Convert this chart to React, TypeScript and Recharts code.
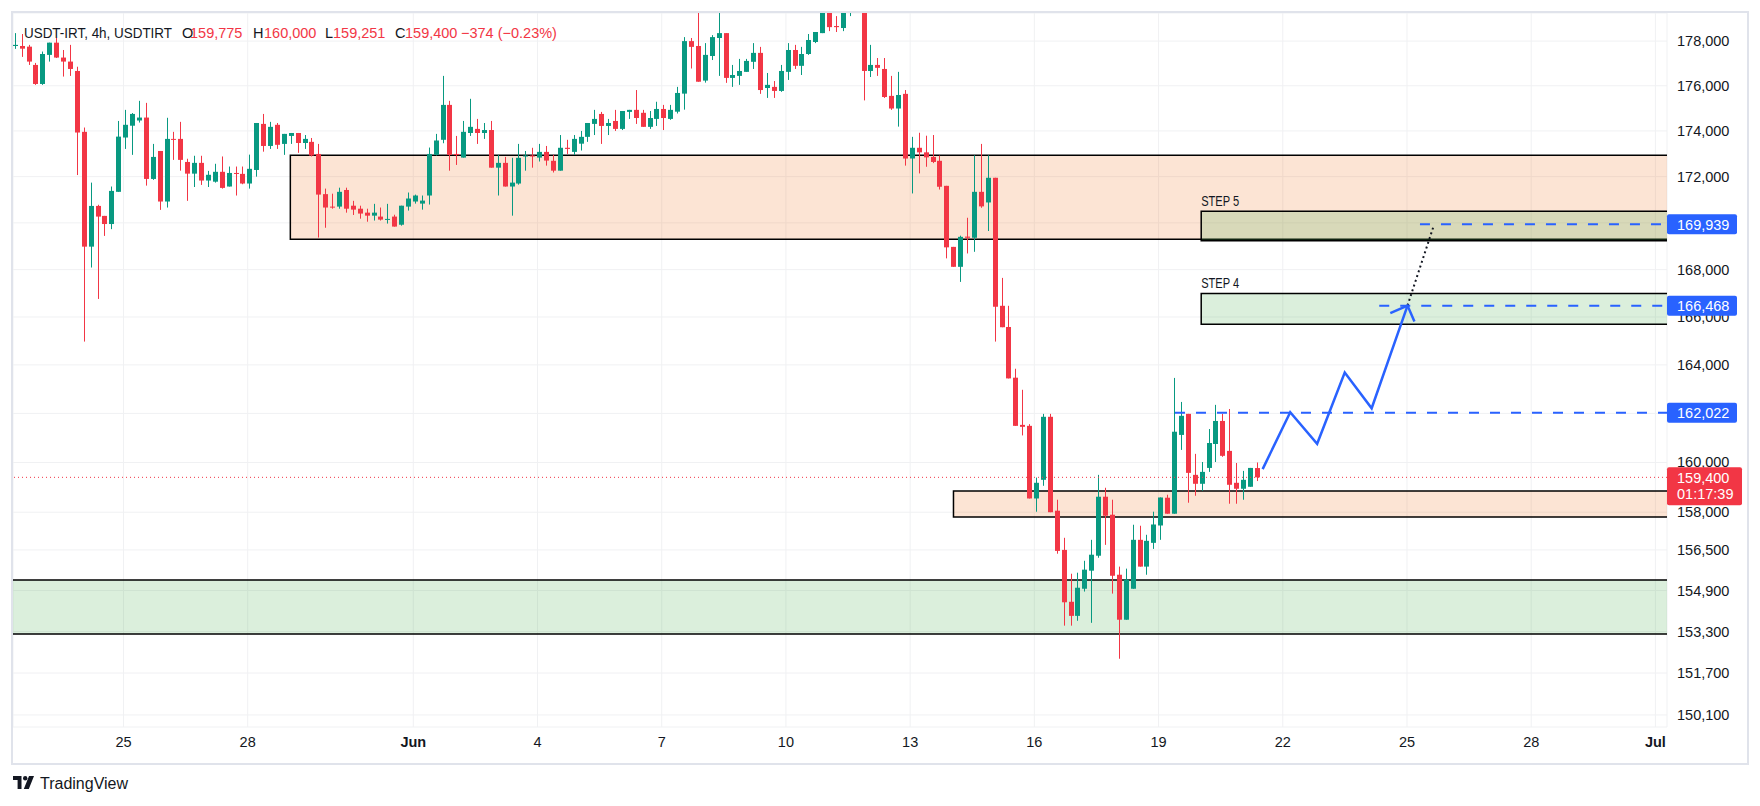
import React from 'react';
import {
  ComposedChart,
  Bar,
  Line,
  XAxis,
  YAxis,
  CartesianGrid,
  ReferenceArea,
  ReferenceLine,
} from 'recharts';

// USDT-IRT 4h candles (index 0 = first visible candle)
const OPEN = [
  177780, 177780, 177750, 176930, 176080, 177380, 177930, 177260, 177080, 176660,
  173960, 168980, 170730, 170300, 169950, 171340, 173710, 174230, 174460, 174590,
  171900, 173120, 170920, 173650, 173650, 172640, 172130, 172600, 171830, 171780,
  172210, 171570, 172160, 172120, 171700, 172290, 174310, 173340, 174270, 173430,
  173780, 173910, 173470, 173520, 172990, 171240, 170700, 170700, 171420, 170740,
  170610, 170440, 170310, 170270, 170140, 170270, 169920, 170700, 170920, 170830,
  171180, 172950, 173610, 175150, 172990, 172830, 173910, 174090, 173910, 174040,
  172390, 172600, 171570, 171700, 172880, 172920, 172830, 173080, 172690, 172260,
  173260, 173080, 173440, 173740, 174310, 174750, 174220, 174440, 174090, 174840,
  174930, 174800, 174180, 174530, 174970, 174530, 174850, 175650, 178000, 177780,
  176230, 177330, 178140, 178360, 176350, 176440, 176620, 177070, 177470, 175900,
  175950, 175770, 176620, 177600, 176890, 177420, 177960, 178360, 179550, 178680,
  178590, 179500, 179900, 179700, 176660, 176930, 176750, 175550, 174990, 175640,
  172790, 173260, 173060, 172860, 172690, 171600, 168970, 168120, 169410, 169360,
  171340, 170880, 171950, 166470, 165580, 163470, 161530, 161490, 158550, 159300,
  161860, 158060, 156500, 154460, 153910, 154970, 155680, 156270, 158620, 157900,
  155520, 153760, 154970, 156900, 155840, 156780, 157470, 158580, 157940, 161120,
  161980, 159500, 159140, 159780, 160750, 161690, 160470, 159180, 158940, 159020,
  159775,
];
const HIGH = [
  178360, 178320, 177830, 177020, 177530, 177930, 178140, 177600, 177830, 176850,
  174150, 171740, 170780, 170300, 171570, 174440, 174930, 174790, 175330, 175240,
  173430, 173120, 174580, 173960, 174400, 172780, 172910, 172910, 172250, 172560,
  172880, 172440, 172440, 172440, 172960, 174350, 174750, 174400, 174350, 173870,
  173910, 173910, 173820, 173690, 173430, 171480, 171260, 171520, 171520, 170950,
  170740, 170610, 170820, 170660, 170820, 170350, 170740, 171310, 171220, 171180,
  173270, 173870, 176440, 175330, 173780, 174440, 175420, 174530, 174350, 174440,
  172950, 172860, 172820, 173430, 173120, 173260, 173430, 173340, 172950, 173820,
  173610, 173820, 174000, 174350, 174930, 174840, 174530, 174930, 174880, 174930,
  175810, 174930, 174880, 175290, 175150, 175150, 175950, 178180, 178140, 179500,
  177910, 178270, 179500, 178360, 176930, 177200, 177200, 177910, 177740, 176570,
  176210, 176930, 177910, 177830, 177740, 178320, 178410, 179900, 179800, 179130,
  179900, 180100, 180300, 180000, 177830, 177240, 177240, 176440, 176620, 175810,
  173740, 173920, 173790, 173820, 172920, 171600, 168970, 169450, 170220, 172930,
  173430, 172930, 171950, 167650, 166470, 163840, 162970, 161560, 159390, 161980,
  161980, 158500, 156980, 155560, 155600, 156070, 156900, 159500, 158980, 158500,
  155840, 155760, 157500, 157460, 157100, 158020, 158590, 158700, 163460, 162470,
  161980, 160350, 160020, 161360, 162350, 161980, 162180, 159980, 159660, 159780,
  160000,
];
const LOW = [
  177650, 177290, 176930, 176040, 176040, 177080, 177240, 176410, 176440, 172070,
  164970, 168090, 166760, 169440, 169730, 171340, 173210, 172950, 174370, 171610,
  171860, 170560, 170660, 172730, 172260, 170950, 171550, 171640, 171550, 171740,
  171480, 171570, 171180, 171670, 171480, 172000, 173090, 173210, 173210, 172950,
  173430, 173040, 173210, 172880, 169370, 169790, 170610, 170610, 170440, 170340,
  170180, 170050, 170100, 170100, 169970, 169840, 169880, 170530, 170830, 170570,
  170790, 172920, 173460, 172260, 172510, 172830, 173780, 173430, 173650, 172390,
  171180, 171570, 170310, 171650, 172260, 172390, 172660, 172480, 172180, 172260,
  172990, 172950, 173140, 173520, 173820, 173430, 173820, 174000, 174040, 174530,
  174310, 174180, 174090, 174220, 174040, 174490, 174770, 174940, 176770, 176180,
  176140, 177150, 176440, 176130, 175950, 176040, 176620, 176750, 175640, 175460,
  175460, 175730, 176260, 176750, 176480, 177380, 177910, 178360, 178450, 178410,
  178450, 179130, 179500, 175350, 176390, 176440, 175460, 174930, 174190, 172480,
  171270, 172140, 172430, 172590, 171440, 168480, 168120, 167480, 168690, 168760,
  170650, 169650, 164970, 165570, 163440, 161490, 161100, 158550, 158020, 159060,
  158000, 156350, 153530, 153530, 153720, 154860, 153640, 156190, 156700, 154780,
  152250, 153760, 154970, 155840, 155520, 156540, 156900, 157940, 157940, 160510,
  158380, 158660, 158860, 159620, 160020, 160230, 158340, 158340, 158500, 159020,
  159251,
];
const CLOSE = [
  177830, 177660, 177080, 176080, 177420, 177930, 177260, 177080, 176750, 173930,
  168980, 170730, 170270, 169950, 171380, 173750, 174270, 174750, 174590, 171900,
  172860, 170920, 173650, 173620, 172730, 172130, 172600, 171830, 172080, 172210,
  171510, 172160, 172120, 171700, 172340, 174350, 173340, 174180, 173390, 173870,
  173910, 173470, 173650, 172920, 171220, 170660, 170660, 171340, 170610, 170570,
  170400, 170310, 170440, 170140, 170170, 169840, 170740, 171050, 171180, 170960,
  172990, 173580, 175150, 172950, 172940, 173960, 174180, 173910, 174040, 172390,
  172600, 171570, 171740, 172820, 172920, 172880, 173080, 172700, 172260, 173260,
  173210, 173650, 173740, 174350, 174530, 174220, 174350, 174090, 174880, 174930,
  174570, 174180, 174570, 174970, 174570, 174930, 175680, 178000, 177740, 176180,
  177380, 178180, 178360, 176350, 176480, 176660, 177110, 177470, 175810, 176040,
  175770, 176660, 177600, 176890, 177420, 178050, 178410, 179620, 178630, 178630,
  179600, 179900, 179800, 176660, 176930, 176800, 175500, 174990, 175590, 172790,
  173260, 173060, 172840, 172640, 171560, 168950, 168120, 169400, 169360, 171340,
  170710, 171950, 166430, 165570, 163440, 161490, 161450, 158550, 159180, 161860,
  158000, 156460, 154440, 153910, 155010, 155720, 156310, 158620, 157860, 155480,
  153760, 155330, 156900, 155840, 156860, 157510, 158590, 157940, 161250, 161900,
  159580, 159140, 159620, 160790, 161690, 160270, 159100, 158940, 159300, 159780,
  159400,
];

// x axis in candle units; May 25 00:00 sits at 15.72, six candles per day
const DAY_ZERO = 15.72;
const DATE_DAYS = [0, 3, 7, 10, 13, 16, 19, 22, 25, 28, 31, 34, 37];
const DATE_LABELS = ['25', '28', 'Jun', '4', '7', '10', '13', '16', '19', '22', '25', '28', 'Jul'];
const PRICE_TICKS = [
  150100, 151700, 153300, 154900, 156500, 158000, 160000, 162000,
  164000, 166000, 168000, 170000, 172000, 174000, 176000, 178000,
];

// zones drawn on the chart: [start candle, low price, high price]
const SUPPLY_ZONE = [39.9, 169300, 172930];
const RETEST_ZONE = [136, 157810, 158850];
const DEMAND_ZONE = [-10, 153210, 155310];
const STEP5_ZONE = [171.9, 169230, 170500];
const STEP4_ZONE = [171.9, 165700, 166990];

// target levels and where their dashed lines begin
const LEVELS = [169939, 166468, 162022];
const LEVEL_FROM = [203.6, 197.7, 168.1];

// projected path
const PATH_X = [180.8, 184.8, 188.7, 192.7, 196.6, 201.8];
const PATH_PRICE = [159730, 162050, 160760, 163680, 162210, 166480];
const HEAD_X = [199.3, 201.8, 202.8];
const HEAD_PRICE = [166160, 166480, 165810];
const DOTTED_X = [201.8, 205.5];
const DOTTED_PRICE = [166480, 169790];

const LAST_PRICE = 159400;
const COUNTDOWN = '01:17:39';

const X_MIN = -0.29;
const X_MAX = 239.4;
const Y_MIN = 149643;
const Y_MAX = 179270;

const UP = '#089981';
const DOWN = '#f23645';
const BLUE = '#2962ff';
const INK = '#131722';
const FONT = '"Liberation Sans", Arial, sans-serif';
const MARGIN = { top: 13, right: 14, bottom: 43, left: 13 };

const candles = OPEN.map((o, i) => ({
  k: i,
  o,
  h: HIGH[i],
  l: LOW[i],
  c: CLOSE[i],
  range: [LOW[i], HIGH[i]],
}));
const pathData = PATH_X.map((k, i) => ({ k, v: PATH_PRICE[i] }));
const headData = HEAD_X.map((k, i) => ({ k, v: HEAD_PRICE[i] }));
const dateTicks = DATE_DAYS.map((d) => DAY_ZERO + d * 6);
const fmt = (v: number) => v.toLocaleString('en-US');

const Candle = (props: any) => {
  const { x, y, width, height, payload } = props;
  if (!payload || x == null || y == null) return null;
  const { o, h, l, c } = payload;
  const top = Math.min(y, y + height);
  const span = Math.abs(height);
  const logSpan = Math.log(h) - Math.log(l);
  // log axis: open/close sit proportionally in log space between high and low
  const at = (v: number) => (logSpan > 0 ? top + (span * (Math.log(h) - Math.log(v))) / logSpan : top);
  const color = c >= o ? UP : DOWN;
  const cx = Math.round(x + width / 2);
  const bTop = at(Math.max(o, c));
  const bBot = at(Math.min(o, c));
  return (
    <g>
      <rect x={cx} y={top} width={1} height={span} fill={color} />
      <rect x={cx - 2} y={bTop} width={5} height={Math.max(1, bBot - bTop)} fill={color} />
    </g>
  );
};

const PriceTick = (props: any) => {
  const { x, y, payload } = props;
  return (
    <text x={x} y={y} fill={INK} fontSize={14.5} fontFamily={FONT} dominantBaseline="central">
      {fmt(payload.value)}
    </text>
  );
};

const DateTick = (props: any) => {
  const { x, y, index } = props;
  const label = DATE_LABELS[index];
  const month = label === 'Jun' || label === 'Jul';
  return (
    <text
      x={x}
      y={y + 15}
      fill={INK}
      fontSize={14.5}
      fontWeight={month ? 700 : 400}
      fontFamily={FONT}
      textAnchor="middle"
      dominantBaseline="central"
    >
      {label}
    </text>
  );
};

const PriceTag = ({ viewBox, tag, sub, bg }: any) => {
  if (!viewBox) return null;
  const x = viewBox.x + viewBox.width;
  const y = viewBox.y;
  return (
    <g>
      <rect x={x} y={y - 10} width={sub ? 75 : 70} height={sub ? 38 : 20} rx={2} fill={bg} />
      <text x={x + 10} y={y + 0.5} fill="#fff" fontSize={14.5} fontFamily={FONT} dominantBaseline="central">
        {tag}
      </text>
      {sub && (
        <text x={x + 10} y={y + 17} fill="#fff" fontSize={14.5} fontFamily={FONT} dominantBaseline="central">
          {sub}
        </text>
      )}
    </g>
  );
};

const StepLabel = ({ viewBox, text }: any) => {
  if (!viewBox) return null;
  return (
    <text
      x={viewBox.x}
      y={viewBox.y - 10}
      fill={INK}
      fontSize={14}
      fontFamily={FONT}
      textLength={38}
      lengthAdjust="spacingAndGlyphs"
      dominantBaseline="central"
    >
      {text}
    </text>
  );
};

const zoneArea = (zone: number[], fill: string, step?: string) => (
  <ReferenceArea
    x1={zone[0]}
    x2={260}
    y1={zone[1]}
    y2={zone[2]}
    ifOverflow="hidden"
    fill={fill}
    fillOpacity={0.2}
    stroke="#000"
    strokeWidth={1.5}
    label={step ? (p: any) => <StepLabel viewBox={p.viewBox} text={step} /> : undefined}
  />
);

// second chart with the same scales, laid on top so the price tags cover the axis text
function TagLayer() {
  return (
    <ComposedChart width={1760} height={806} data={candles} margin={MARGIN}>
      <XAxis
        dataKey="k"
        type="number"
        domain={[X_MIN, X_MAX]}
        allowDataOverflow
        tick={false}
        axisLine={false}
        tickLine={false}
        height={36}
      />
      <YAxis
        orientation="right"
        type="number"
        scale="log"
        domain={[Y_MIN, Y_MAX]}
        allowDataOverflow
        tick={false}
        axisLine={false}
        tickLine={false}
        width={79}
      />
      <Line data={pathData} dataKey="v" stroke="none" dot={false} activeDot={false} isAnimationActive={false} />
      <ReferenceLine
        y={LAST_PRICE}
        stroke="none"
        label={(p: any) => <PriceTag viewBox={p.viewBox} tag={fmt(LAST_PRICE)} sub={COUNTDOWN} bg={DOWN} />}
      />
      {LEVELS.map((lv) => (
        <ReferenceLine
          key={lv}
          y={lv}
          stroke="none"
          label={(p: any) => <PriceTag viewBox={p.viewBox} tag={fmt(lv)} bg={BLUE} />}
        />
      ))}
    </ComposedChart>
  );
}

export default function App() {
  return (
    <div style={{ position: 'absolute', left: 0, top: 0, width: 1760, height: 806, background: '#fff' }}>
      <ComposedChart width={1760} height={806} data={candles} margin={MARGIN}>
        <CartesianGrid stroke="#f0f1f3" />
        <XAxis
          dataKey="k"
          type="number"
          domain={[X_MIN, X_MAX]}
          allowDataOverflow
          ticks={dateTicks}
          interval={0}
          tick={<DateTick />}
          tickSize={0}
          tickMargin={0}
          axisLine={false}
          tickLine={false}
          height={36}
        />
        <YAxis
          orientation="right"
          type="number"
          scale="log"
          domain={[Y_MIN, Y_MAX]}
          allowDataOverflow
          ticks={PRICE_TICKS}
          interval={0}
          tick={<PriceTick />}
          tickSize={0}
          tickMargin={10}
          axisLine={false}
          tickLine={false}
          width={79}
        />
        {zoneArea(SUPPLY_ZONE, 'rgb(240,120,40)')}
        {zoneArea(RETEST_ZONE, 'rgb(240,120,40)')}
        {zoneArea(DEMAND_ZONE, 'rgb(76,175,80)')}
        {zoneArea(STEP5_ZONE, 'rgb(76,175,80)', 'STEP 5')}
        {zoneArea(STEP4_ZONE, 'rgb(76,175,80)', 'STEP 4')}
        <Bar dataKey="range" barSize={5} shape={<Candle />} isAnimationActive={false} />
        <ReferenceLine y={LAST_PRICE} stroke={DOWN} strokeDasharray="1 3" />
        {LEVELS.map((lv, i) => (
          <ReferenceLine
            key={lv}
            segment={[
              { x: LEVEL_FROM[i], y: lv },
              { x: X_MAX, y: lv },
            ]}
            stroke={BLUE}
            strokeWidth={2}
            strokeDasharray="10 11"
          />
        ))}
        <ReferenceLine
          segment={[
            { x: DOTTED_X[0], y: DOTTED_PRICE[0] },
            { x: DOTTED_X[1], y: DOTTED_PRICE[1] },
          ]}
          stroke={INK}
          strokeWidth={2}
          strokeDasharray="2 3"
        />
        <Line
          data={pathData}
          dataKey="v"
          type="linear"
          stroke={BLUE}
          strokeWidth={2.5}
          dot={false}
          activeDot={false}
          isAnimationActive={false}
        />
        <Line
          data={headData}
          dataKey="v"
          type="linear"
          stroke={BLUE}
          strokeWidth={2.5}
          dot={false}
          activeDot={false}
          isAnimationActive={false}
        />
      </ComposedChart>

      <div style={{ position: 'absolute', left: 0, top: 0, pointerEvents: 'none' }}>
        <TagLayer />
      </div>

      <svg
        width={600}
        height={50}
        style={{ position: 'absolute', left: 0, top: 0 }}
        fontFamily={FONT}
        fontSize={14.5}
      >
        <text x={24} y={33} fill={INK} dominantBaseline="central" textLength={148} lengthAdjust="spacingAndGlyphs">
          USDT-IRT, 4h, USDTIRT
        </text>
        <text x={182} y={33} fill={INK} dominantBaseline="central">O</text>
        <text x={190} y={33} fill={DOWN} dominantBaseline="central">{fmt(OPEN[OPEN.length - 1])}</text>
        <text x={253} y={33} fill={INK} dominantBaseline="central">H</text>
        <text x={264} y={33} fill={DOWN} dominantBaseline="central">{fmt(HIGH[HIGH.length - 1])}</text>
        <text x={325} y={33} fill={INK} dominantBaseline="central">L</text>
        <text x={333} y={33} fill={DOWN} dominantBaseline="central">{fmt(LOW[LOW.length - 1])}</text>
        <text x={395} y={33} fill={INK} dominantBaseline="central">C</text>
        <text x={405} y={33} fill={DOWN} dominantBaseline="central">{fmt(CLOSE[CLOSE.length - 1])}</text>
        <text x={461} y={33} fill={DOWN} dominantBaseline="central">−374 (−0.23%)</text>
      </svg>

      <div
        style={{
          position: 'absolute',
          left: 11,
          top: 11,
          width: 1734,
          height: 750,
          border: '2px solid #e0e3eb',
          pointerEvents: 'none',
        }}
      />

      <svg width={160} height={30} style={{ position: 'absolute', left: 13, top: 768 }}>
        <g fill={INK}>
          <path d="M0 8h8.5v13H4.6V12H0z" />
          <circle cx={12.2} cy={10.2} r={2.2} />
          <path d="M16 8h5l-5.2 13h-5z" />
        </g>
        <text x={27} y={15} fill={INK} fontSize={16} fontFamily={FONT} dominantBaseline="central">
          TradingView
        </text>
      </svg>
    </div>
  );
}
